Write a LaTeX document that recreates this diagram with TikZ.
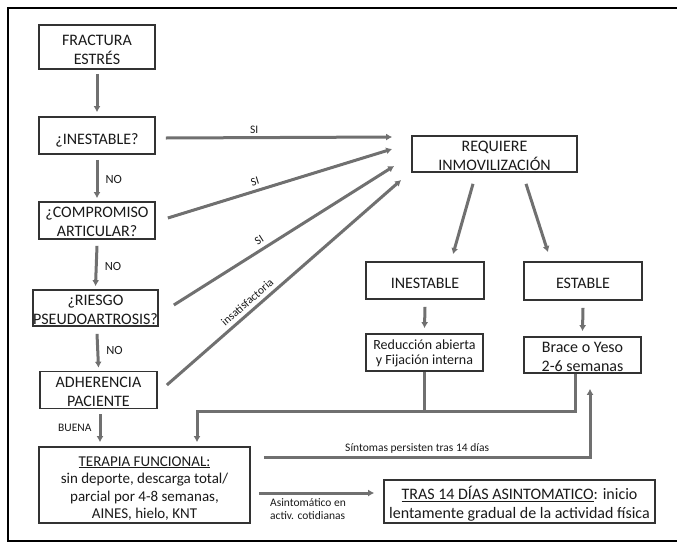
\documentclass[tikz,border=0pt]{standalone}
\usepackage{fontspec}
\setmainfont{Carlito}
\usetikzlibrary{arrows.meta,calc}
\definecolor{arrgray}{HTML}{707070}
\definecolor{boxline}{HTML}{333333}
\definecolor{txtcol}{HTML}{1a1a1a}
\begin{document}
\begin{tikzpicture}[x=1pt,y=-1pt,
  box/.style={draw=boxline,line width=1.7pt,inner sep=0pt,fill=white},
  txt/.style={align=center,inner sep=0pt,text=txtcol,font=\fontsize{16}{19}\selectfont},
  txtm/.style={align=center,inner sep=0pt,text=txtcol,font=\fontsize{15}{17.5}\selectfont},
  txts/.style={align=center,inner sep=0pt,text=txtcol,font=\fontsize{14}{15.5}\selectfont},
  arr/.style={draw=arrgray,line width=3pt,-{Latex[length=6pt,width=7pt]}},
  ln/.style={draw=arrgray,line width=3pt},
  lbl/.style={font=\fontsize{12.5}{14}\selectfont,text=txtcol,inner sep=1pt},
  lbls/.style={font=\fontsize{11.5}{13}\selectfont,text=txtcol,inner sep=1pt}]
\useasboundingbox (0,0) rectangle (677,544);
\draw[line width=1.3pt] (677,8) -- (8,8) -- (8,541) -- (677,541);

% left column boxes
\node[box,minimum width=116pt,minimum height=44pt] (frac) at (97,47) {};
\node[txt] (fracT) at ([yshift=-3pt]frac.center) {FRACTURA\\ESTRÉS};
\node[box,minimum width=116pt,minimum height=37pt] (inest) at (97,135.5) {};
\node[txt] (inestT) at ([yshift=-4.5pt]inest.center) {¿INESTABLE?};
\node[box,minimum width=116pt,minimum height=37pt] (comp) at (97,220.5) {};
\node[txt] (compT) at ([yshift=-1.5pt]comp.center) {¿COMPROMISO\\ARTICULAR?};
\node[box,minimum width=125pt,minimum height=36pt] (riesgo) at (95.5,308) {};
\node[txt] (riesgoT) at ([yshift=-1.5pt]riesgo.center) {¿RIESGO\\PSEUDOARTROSIS?};
\node[box,minimum width=117pt,minimum height=37pt] (adher) at (98.5,390) {};
\node[txt] (adherT) at ([yshift=-2pt]adher.center) {ADHERENCIA\\PACIENTE};
\node[box,minimum width=211pt,minimum height=76pt] (terapia) at (144.5,485) {};
\node[txtm] (terapiaT) at ([yshift=-3.5pt]terapia.center) {\underline{TERAPIA FUNCIONAL:}\\sin deporte, descarga total/\\parcial por 4-8 semanas,\\AINES, hielo, KNT};

% right side boxes
\node[box,minimum width=165pt,minimum height=36pt] (req) at (494.5,154) {};
\node[txt] (reqT) at ([yshift=-1.5pt]req.center) {REQUIERE\\INMOVILIZACIÓN};
\node[box,minimum width=118pt,minimum height=37pt] (inS) at (425,280.5) {};
\node[txt] (inST) at ([yshift=-2.5pt]inS.center) {INESTABLE};
\node[box,minimum width=118pt,minimum height=38pt] (est) at (583,281) {};
\node[txt] (estT) at ([yshift=-2.5pt]est.center) {ESTABLE};
\node[box,minimum width=117pt,minimum height=37pt] (red) at (424.5,352.5) {};
\node[txts] (redT) at ([yshift=-1pt]red.center) {Reducción abierta\\y Fijación interna};
\node[box,minimum width=117pt,minimum height=36pt] (brace) at (582.5,355) {};
\node[txt] (braceT) at ([yshift=-1.5pt]brace.center) {Brace o Yeso\\2-6 semanas};
\node[box,minimum width=271pt,minimum height=43pt] (tras) at (519.5,501.5) {};
\node[txt] (trasT) at ([yshift=-2pt]tras.center) {\underline{TRAS 14 DÍAS ASINTOMATICO}: inicio\\lentamente gradual de la actividad física};

% vertical chain
\draw[arr] ([yshift=-4pt]frac.south) -- ([yshift=4pt]inest.north);
\draw[arr] ([yshift=-5pt]inest.south) -- ([yshift=3pt]comp.north) node[midway,right=6pt,lbl] {NO};
\draw[arr] ([yshift=-6pt]comp.south) -- ([yshift=3pt]riesgo.north) node[midway,right=6pt,lbl] {NO};
\draw[arr] ([xshift=1.5pt,yshift=-7pt]riesgo.south) -- ([yshift=3pt]adher.north) node[midway,right=6pt,lbl] {NO};
\draw[arr] ([xshift=1.5pt,yshift=-5pt]adher.south) -- ([xshift=1.5pt,yshift=4pt]adher.south |- terapia.north) node[midway,left=6pt,lbls] {BUENA};

% arrows into REQUIERE
\draw[arr] ([shift={(10,2.5)}]inest.east) -- ([shift={(-19,-17)}]req.west) node[pos=0.39,above=2pt,lbls] {SI};
\draw[arr] ([shift={(12,-2.5)}]comp.east) -- ([shift={(-19,-5)}]req.west) node[pos=0.40,above=3pt,sloped,lbls] {SI};
\draw[arr] ([shift={(15,-3)}]riesgo.east) -- ([shift={(-17,12)}]req.west) node[pos=0.41,above=3pt,sloped,lbls] {SI};
\draw[arr] ([shift={(9,-5)}]adher.east) -- ([shift={(-10,26)}]req.west) node[pos=0.37,above=3pt,sloped,lbls] {insatisfactoria};

% from REQUIERE
\draw[arr] ([shift={(-21.5,11)}]req.south) -- ([shift={(28,-7)}]inS.north);
\draw[arr] ([shift={(31.5,11)}]req.south) -- ([shift={(-35,-9)}]est.north);
\draw[arr] ([yshift=-7pt]inS.south) -- ([yshift=5pt]red.north);
\draw[arr] ([yshift=-7pt]est.south) -- ([yshift=5pt]brace.north);

% back to terapia
\coordinate (j) at (197,411);
\draw[ln] (red.south) -- (red.south |- j);
\draw[arr,shorten >=4pt] ([xshift=-7.5pt]brace.south) |- (j) -- (j |- terapia.north);

% persist
\draw[arr] ([shift={(13,11)}]terapia.north east) -| ([shift={(7.5,15)}]brace.south)
  node[pos=0.235,above=1pt,lbls] {Síntomas persisten tras 14 días};

% asintomatico
\draw[arr] ([shift={(8,8)}]terapia.east) -- ([shift={(-9,-8.5)}]tras.west);
\node[lbls,anchor=north west,align=left] (asl) at (269,497) {Asintomático en\\activ. cotidianas};
\end{tikzpicture}
\end{document}
